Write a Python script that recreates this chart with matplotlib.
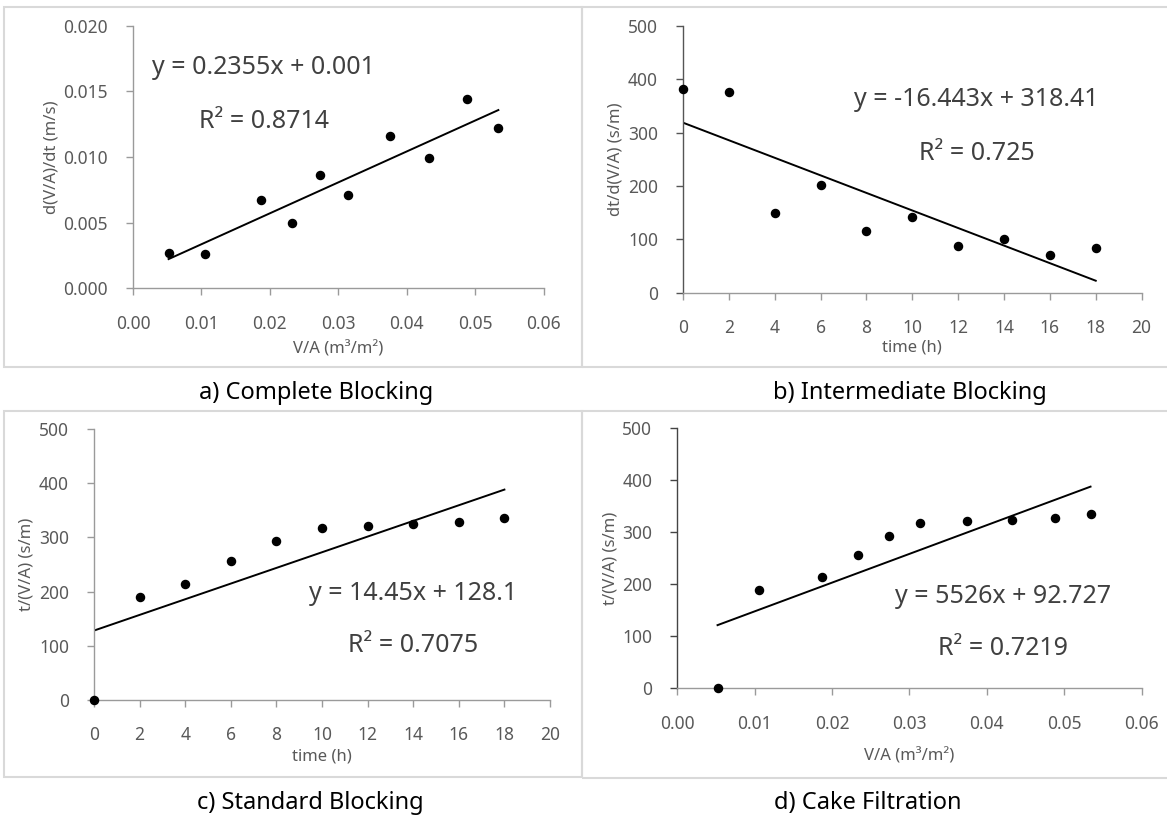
import numpy as np
import matplotlib.pyplot as plt
from matplotlib.patches import Rectangle

plt.rcParams['font.family'] = ['Noto Sans', 'DejaVu Sans']

W, H = 1167, 816

# data
va = [0.0052, 0.0105, 0.0187, 0.0233, 0.0273, 0.0314, 0.0375, 0.0432, 0.0488, 0.0534]
hours = [0, 2, 4, 6, 8, 10, 12, 14, 16, 18]
flux = [0.0027, 0.0026, 0.0067, 0.0050, 0.0086, 0.0071, 0.0116, 0.0099, 0.0144, 0.0122]
inv_flux = [382, 376, 150, 201, 116, 141, 87, 101, 70, 83]
t_over_va = [0, 190, 214, 257, 293, 318, 321, 324, 328, 336]

fits = {
    'a': (0.2355, 0.001, 'y = 0.2355x + 0.001', 'R² = 0.8714'),
    'b': (-16.443, 318.41, 'y = -16.443x + 318.41', 'R² = 0.725'),
    'c': (14.45, 128.1, 'y = 14.45x + 128.1', 'R² = 0.7075'),
    'd': (5526, 92.727, 'y = 5526x + 92.727', 'R² = 0.7219'),
}
captions = {'a': 'a) Complete Blocking', 'b': 'b) Intermediate Blocking',
            'c': 'c) Standard Blocking', 'd': 'd) Cake Filtration'}

fig = plt.figure(figsize=(W / 100, H / 100), dpi=100)


def px_rect(x0, x1, ytop, ybot):
    return [x0 / W, 1 - ybot / H, (x1 - x0) / W, (ybot - ytop) / H]


# panel frames
for (x0, x1, yt, yb) in [(4.3, 582, 7, 367), (582, 1172, 7, 367),
                         (4.3, 582, 410.7, 776.7), (582, 1172, 410.7, 778)]:
    fig.patches.append(Rectangle((x0 / W, 1 - yb / H), (x1 - x0) / W, (yb - yt) / H,
                                 transform=fig.transFigure, fill=False,
                                 edgecolor='#d9d9d9', lw=1.5))

gray = '#595959'

panels = [
    # key, x, y, rect, xlim, ylim, xticks, yticks, xfmt, yfmt, xlabel, ylabel, text pos, spine colour, xlabelpad
    ('a', va, flux, px_rect(133, 543.5, 25.7, 288.3), (0, 0.06), (0, 0.02),
     np.arange(0, 0.061, 0.01), np.arange(0, 0.0201, 0.005), '{:.2f}', '{:.3f}',
     'V/A (m³/m²)', 'd(V/A)/dt (m/s)', (0.0191, 0.0168, 0.0127), '#9a9a9a', 6),
    ('b', hours, inv_flux, px_rect(683, 1141.6, 25.7, 292.7), (0, 20), (0, 500),
     np.arange(0, 21, 2), np.arange(0, 501, 100), '{:.0f}', '{:.0f}',
     'time (h)', 'dt/d(V/A) (s/m)', (12.8, 361, 261), '#555555', 2),
    ('c', hours, t_over_va, px_rect(94, 550, 429, 700), (0, 20), (0, 500),
     np.arange(0, 21, 2), np.arange(0, 501, 100), '{:.0f}', '{:.0f}',
     'time (h)', 't/(V/A) (s/m)', (14.0, 197, 100), '#9a9a9a', 3),
    ('d', va, t_over_va, px_rect(677.3, 1141.6, 428.3, 688.3), (0, 0.06), (0, 500),
     np.arange(0, 0.061, 0.01), np.arange(0, 501, 100), '{:.2f}', '{:.0f}',
     'V/A (m³/m²)', 't/(V/A) (s/m)', (0.0421, 176, 77), '#444444', 11),
]

for key, x, y, rect, xlim, ylim, xt, yt, xf, yf, xl, yl, tp, sc, lp in panels:
    ax = fig.add_axes(rect)
    ax.scatter(x, y, s=34, color='black', zorder=3, clip_on=False)
    m, b, eq, r2 = fits[key]
    xs = np.array([x[0], x[-1]])
    ax.plot(xs, m * xs + b, color='black', lw=1.4, zorder=2)
    ax.set_xlim(*xlim)
    ax.set_ylim(*ylim)
    ax.set_xticks(xt)
    ax.set_xticklabels([xf.format(v) for v in xt])
    ax.set_yticks(yt)
    ax.set_yticklabels([yf.format(v) for v in yt])
    for s in ['top', 'right']:
        ax.spines[s].set_visible(False)
    for s in ['left', 'bottom']:
        ax.spines[s].set_color(sc)
        ax.spines[s].set_linewidth(1.0)
    ax.spines['bottom'].set_color('#9a9a9a')
    ax.tick_params(axis='x', length=5, width=1, color='#9a9a9a', labelcolor=gray,
                   labelsize=12.5, pad=14)
    ax.tick_params(axis='y', length=5, width=1, color=sc, labelcolor=gray,
                   labelsize=12.5, pad=13)
    ax.set_xlabel(xl, fontsize=12, color=gray, labelpad=lp)
    ax.set_ylabel(yl, fontsize=12, color=gray, labelpad=3)
    ax.patch.set_alpha(0)
    ax.text(tp[0], tp[1], eq, fontsize=18, color='#404040', ha='center', va='center')
    ax.text(tp[0], tp[2], r2, fontsize=18, color='#404040', ha='center', va='center')

# captions under each panel
for key, cx, cy in [('a', 316, 393), ('b', 910, 393), ('c', 310, 803), ('d', 868, 803)]:
    fig.text(cx / W, 1 - cy / H, captions[key], fontsize=17, color='black',
             ha='center', va='center')

fig.savefig('out.png', dpi=100)
